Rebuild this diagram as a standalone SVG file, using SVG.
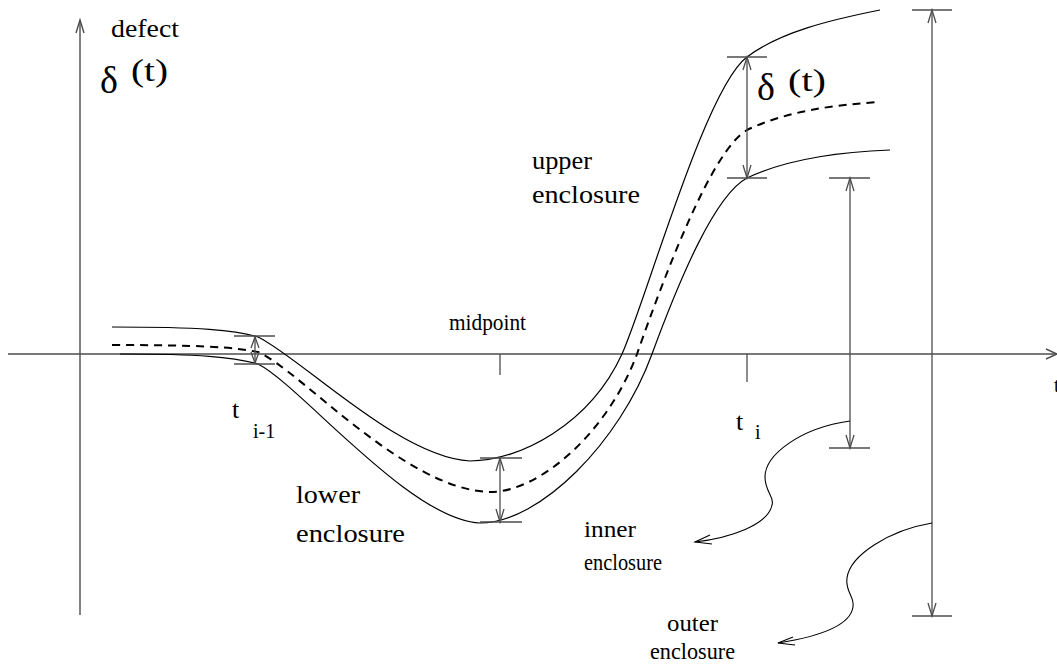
<svg xmlns="http://www.w3.org/2000/svg" width="1057" height="664" viewBox="0 0 1057 664">
<style>
.ax{stroke:#4d4d4d;stroke-width:1.4;fill:none}
.cv{stroke:#000;stroke-width:1.2;fill:none}
.dash{stroke:#000;stroke-width:2;fill:none;stroke-dasharray:8 6}
.ar{stroke:#4d4d4d;stroke-width:1.3;fill:none}
.tk{stroke:#4d4d4d;stroke-width:1.3}
.ld{stroke:#000;stroke-width:1.1;fill:none}
text{font-family:"Liberation Serif","Times New Roman",serif;fill:#000}
.lb{font-size:26px}
.md{font-size:23px}
.sm{font-size:20px}
</style>
<rect width="1057" height="664" fill="#fff"/>
<g id="axes">
<line class="ax" x1="8" y1="354" x2="1057" y2="354"/>
<polyline class="ax" points="1046,349 1057,354 1046,359"/>
<line class="ax" x1="80" y1="20" x2="80" y2="615"/>
<polyline class="ax" points="76,33 80,20 84,33"/>
<line class="tk" x1="500" y1="354" x2="500" y2="375"/>
<line class="tk" x1="747" y1="354" x2="747" y2="382"/>
</g>
<g id="upper-curve">
<path class="cv" d="M112,327 C200,327 235,330 258,337 C300,357 400,458 470,461 C520,461 590,424 622,354 C645,304 705,88 747,57 C780,32 830,20 880,10"/>
</g>
<g id="mid-curve">
<path class="dash" d="M112,345 C200,345 232,347 258,352 C300,370 405,490 490,492 C540,492 608,432 637,354 C665,274 712,150 747,130 C785,112 830,105 880,102"/>
</g>
<g id="lower-curve">
<path class="cv" d="M120,354 C200,354 232,357 258,364 C300,385 410,520 480,523 C540,523 620,442 652,354 C680,278 715,195 747,178 C785,160 835,152 890,150"/>
</g>
<g id="connectors">
<line class="tk" x1="234" y1="336" x2="275" y2="336"/>
<line class="tk" x1="234" y1="364" x2="275" y2="364"/>
<line class="ar" x1="255" y1="337" x2="255" y2="363"/>
<polyline class="ar" points="251,348 255,337 259,348"/>
<polyline class="ar" points="251,352 255,363 259,352"/>
<line class="tk" x1="480" y1="458" x2="522" y2="458"/>
<line class="tk" x1="480" y1="522" x2="522" y2="522"/>
<line class="ar" x1="500" y1="458" x2="500" y2="522"/>
<polyline class="ar" points="496,471 500,458 504,471"/>
<polyline class="ar" points="496,509 500,522 504,509"/>
<line class="tk" x1="727" y1="57" x2="767" y2="57"/>
<line class="tk" x1="727" y1="178" x2="767" y2="178"/>
<line class="ar" x1="747" y1="57" x2="747" y2="178"/>
<polyline class="ar" points="743,70 747,57 751,70"/>
<polyline class="ar" points="743,165 747,178 751,165"/>
<line class="tk" x1="829" y1="178" x2="870" y2="178"/>
<line class="tk" x1="829" y1="448" x2="870" y2="448"/>
<line class="ar" x1="850" y1="178" x2="850" y2="448"/>
<polyline class="ar" points="846,191 850,178 854,191"/>
<polyline class="ar" points="846,435 850,448 854,435"/>
<line class="tk" x1="912" y1="10" x2="952" y2="10"/>
<line class="tk" x1="912" y1="616" x2="952" y2="616"/>
<line class="ar" x1="932" y1="10" x2="932" y2="616"/>
<polyline class="ar" points="928,23 932,10 936,23"/>
<polyline class="ar" points="928,603 932,616 936,603"/>
<path class="ld" d="M850,421 C800,428 765,455 765,477 C765,492 775,497 772,505 C768,525 730,538 695,542"/>
<polyline class="ld" points="710,535 695,542 712,544"/>
<path class="ld" d="M932,523 C890,530 850,555 847,578 C845,592 855,597 853,607 C850,628 810,638 778,643"/>
<polyline class="ld" points="793,637 778,643 795,645"/>
</g>
<g id="labels">
<text class="lb" x="111" y="37" textLength="68" lengthAdjust="spacingAndGlyphs">defect</text>
<text x="100" y="93" font-size="38">δ</text>
<text x="131" y="81" font-size="32" textLength="37" lengthAdjust="spacingAndGlyphs">(t)</text>
<text x="757" y="100" font-size="38">δ</text>
<text x="788" y="91" font-size="32" textLength="38" lengthAdjust="spacingAndGlyphs">(t)</text>
<text class="lb" x="532" y="169" textLength="60" lengthAdjust="spacingAndGlyphs">upper</text>
<text class="lb" x="532" y="203" textLength="108" lengthAdjust="spacingAndGlyphs">enclosure</text>
<text class="md" x="449" y="330" textLength="77" lengthAdjust="spacingAndGlyphs">midpoint</text>
<text class="lb" x="296" y="503" textLength="64" lengthAdjust="spacingAndGlyphs">lower</text>
<text class="lb" x="296" y="542" textLength="109" lengthAdjust="spacingAndGlyphs">enclosure</text>
<text class="md" x="584" y="537" textLength="52" lengthAdjust="spacingAndGlyphs">inner</text>
<text class="md" x="584" y="570" textLength="78" lengthAdjust="spacingAndGlyphs">enclosure</text>
<text class="md" x="667" y="631" textLength="51" lengthAdjust="spacingAndGlyphs">outer</text>
<text class="md" x="650" y="659" textLength="85" lengthAdjust="spacingAndGlyphs">enclosure</text>
<text class="lb" x="736" y="430">t</text>
<text class="sm" x="755" y="439">i</text>
<text class="lb" x="232" y="418">t</text>
<text class="sm" x="253" y="438">i-1</text>
<text class="sm" x="1054" y="392">t</text>
</g>
</svg>
